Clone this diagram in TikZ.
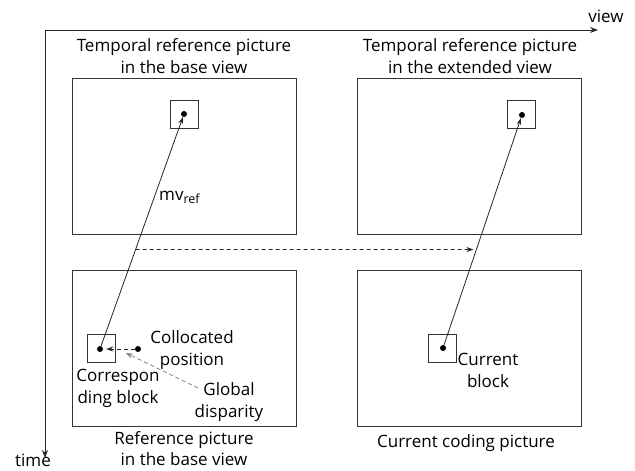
\documentclass[tikz,border=0pt]{standalone}
\usepackage{fontspec}
\setmainfont{Open Sans}
\usetikzlibrary{arrows.meta}
\begin{document}
\begin{tikzpicture}[x=1pt,y=-1pt,
  lbl/.style={font=\fontsize{17}{21.5}\selectfont, text=black, align=center, inner sep=0pt, anchor=base},
  picbox/.style={draw=black!80, line width=0.9pt, minimum width=224pt, minimum height=156pt, inner sep=0pt},
  blk/.style={draw=black!80, line width=0.9pt, minimum size=28pt, inner sep=0pt},
  dotmark/.style={circle, fill=black, inner sep=0pt, minimum size=6pt},
  axis/.style={line width=0.9pt, draw=black!85, {Stealth[length=8pt,width=6pt]}-{Stealth[length=8pt,width=6pt]}},
  mvarrow/.style={line width=0.8pt, draw=black!85, -{Stealth[length=7pt,width=4.5pt]}},
  dvarrow/.style={line width=0.8pt, draw=black!85, dash pattern=on 4pt off 3pt, -{Stealth[length=7pt,width=5pt]}},
  gdarrow/.style={line width=0.8pt, draw=black!50, dash pattern=on 4pt off 3pt, -{Stealth[length=7pt,width=5pt]}},
]
\useasboundingbox (0,0) rectangle (635,471);

% axes
\coordinate (o) at (45,30);
\coordinate (vend) at (598,30);
\coordinate (tend) at (45,458);
\draw[axis] (vend) -- (o) -- (tend);
\node[lbl] (view) at (606,23) {view};
\node[lbl] (time) at (33,466) {time};

% pictures
\node[picbox] (tl) at (184,156) {};
\node[picbox] (tr) at (469.5,156) {};
\node[picbox] (bl) at (184,348) {};
\node[picbox] (br) at (469.5,348) {};

% two-line labels are anchored on their last baseline
\node[lbl] (tltxt) at (184,73) {Temporal reference picture\\in the base view};
\node[lbl] (trtxt) at (470,73) {Temporal reference picture\\in the extended view};
\node[lbl] (bltxt) at (184,465.5) {Reference picture\\in the base view};
\node[lbl] (brtxt) at (466,447) {Current coding picture};

% blocks
\node[blk] (tlb) at (184,114.5) {};
\node[blk] (trb) at (521,114.5) {};
\node[blk] (blb) at (101,348) {};
\node[blk] (brb) at (442.5,348.5) {};

\node[dotmark] (tld) at (184,114) {};
\node[dotmark] (trd) at (522,115) {};
\node[dotmark] (bld) at (100,349) {};
\node[dotmark] (brd) at (443,348) {};
\node[dotmark] (col) at (138,349) {};

% motion vectors
\draw[mvarrow] (bld) -- (tld);
\draw[mvarrow] (brd) -- (trd);
\path (bld) -- (tld) coordinate[pos=0.421] (mvl);
\path (brd) -- (trd) coordinate[pos=0.4206] (mvr);
\draw[dvarrow, shorten >=3pt] (mvl) -- (mvr);

\node[lbl, anchor=base west] (mvref) at (159,200) {mv\raisebox{-3.5pt}{\fontsize{12.5}{12.5}\selectfont ref}};

% disparity
\draw[dvarrow, shorten >=3pt] (col) -- (bld);
\coordinate (gdtail) at (198,388);
\coordinate (gdhead) at (126,353);
\draw[gdarrow] (gdtail) -- (gdhead);

\node[lbl] (coltxt) at (192,365) {Collocated\\position};
\node[lbl] (cortxt) at (118,403) {Correspon\\ding block};
\node[lbl] (gdtxt) at (229,417) {Global\\disparity};
\node[lbl] (curtxt) at (488,387) {Current\\block};
\end{tikzpicture}
\end{document}
